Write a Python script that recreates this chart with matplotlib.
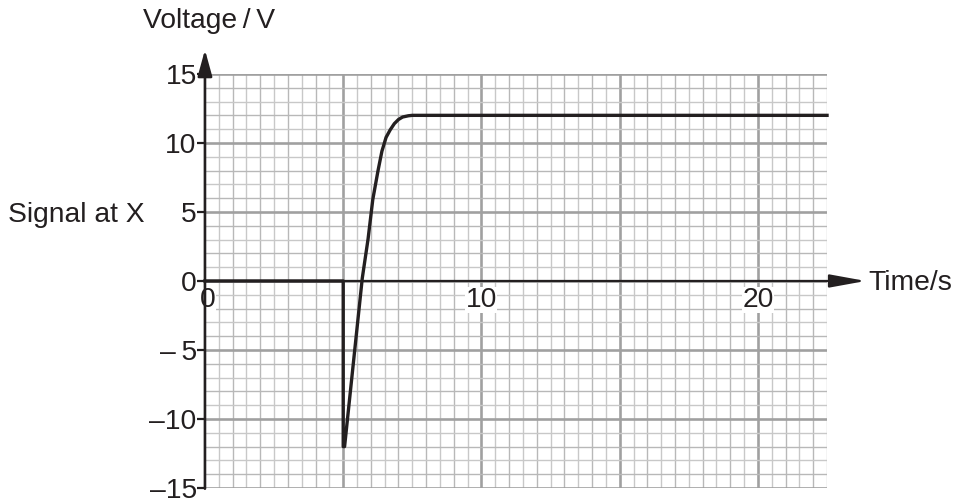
import matplotlib
matplotlib.use("Agg")
import matplotlib.pyplot as plt
import numpy as np

plt.rcParams["font.family"] = ["Liberation Sans", "DejaVu Sans"]

# signal at X
time_s = [0, 5.0, 5.0, 5.05, 5.69, 5.90, 6.07, 6.26, 6.40, 6.55, 6.70, 6.85, 7.0, 7.15, 7.36, 7.5, 22.5]
voltage_v = [0, 0, -12, -12, 0.2, 3.05, 5.9, 8.0, 9.4, 10.4, 10.95, 11.4, 11.7, 11.88, 11.97, 12, 12]

y_ticks = [-15, -10, -5, 0, 5, 10, 15]
y_labels = ["\u201315", "\u201310", "\u2013\u20095", "0", "5", "10", "15"]
x_labels = [(0.1, "0"), (10, "10"), (20, "20")]

ink = "#231f20"
fs = 20.3

fig = plt.figure(figsize=(9.6, 5.03), dpi=100)
ax = fig.add_axes([0.2135, 0.0298, 0.6480, 0.8232])
ax.set_xlim(0, 22.5)
ax.set_ylim(-15, 15)

# graph paper grid
for x in np.arange(0.5, 22.51, 0.5):
    if abs(x % 5) < 1e-9:
        c, lw = "#a0a0a0", 1.9
    elif abs(x % 1) < 1e-9:
        c, lw = "#b8b8b8", 1.0
    else:
        c, lw = "#c8c8c8", 1.0
    ax.axvline(x, color=c, lw=lw, zorder=1)
for y in np.arange(-15, 15.01, 1):
    if abs(y % 5) < 1e-9:
        c, lw = "#a0a0a0", 1.9
    elif abs(y % 2) < 1e-9:
        c, lw = "#b8b8b8", 1.0
    else:
        c, lw = "#c8c8c8", 1.0
    ax.axhline(y, color=c, lw=lw, zorder=1)

for side in ["top", "right", "bottom", "left"]:
    ax.spines[side].set_visible(False)

ax.set_xticks([])
ax.set_yticks(y_ticks)
ax.set_yticklabels(y_labels, fontsize=fs)
ax.tick_params(axis="y", length=6, width=1.6, color=ink, pad=0, labelcolor=ink)

# axes with arrows
ax.annotate("", xy=(0, 16.75), xytext=(0, -15.05), annotation_clip=False,
            arrowprops=dict(arrowstyle="-|>,head_length=0.8,head_width=0.22",
                            color=ink, lw=1.9, mutation_scale=20, shrinkA=0, shrinkB=0),
            zorder=5)
ax.annotate("", xy=(23.9, 0), xytext=(0, 0), annotation_clip=False,
            arrowprops=dict(arrowstyle="-|>,head_length=1.1,head_width=0.2",
                            color=ink, lw=1.6, mutation_scale=20, shrinkA=0, shrinkB=0),
            zorder=5)

ax.plot(time_s, voltage_v, color=ink, lw=2.4, solid_joinstyle="round", zorder=6, clip_on=False)

for x, s in x_labels:
    ax.text(x, -0.45, s, ha="center", va="top", fontsize=fs, color=ink, zorder=4,
            bbox=dict(facecolor="white", edgecolor="none", pad=0.3))

fig.text(143 / 960, 1 - 21 / 503, "Voltage\u2009/\u2009V", ha="left", va="center", fontsize=fs, color=ink)
fig.text(8 / 960, 1 - 215 / 503, "Signal at X", ha="left", va="center", fontsize=fs, color=ink)
fig.text(868 / 960, 1 - 283 / 503, "Time/s", ha="left", va="center", fontsize=fs, color=ink)

plt.savefig("out.png", dpi=100)
